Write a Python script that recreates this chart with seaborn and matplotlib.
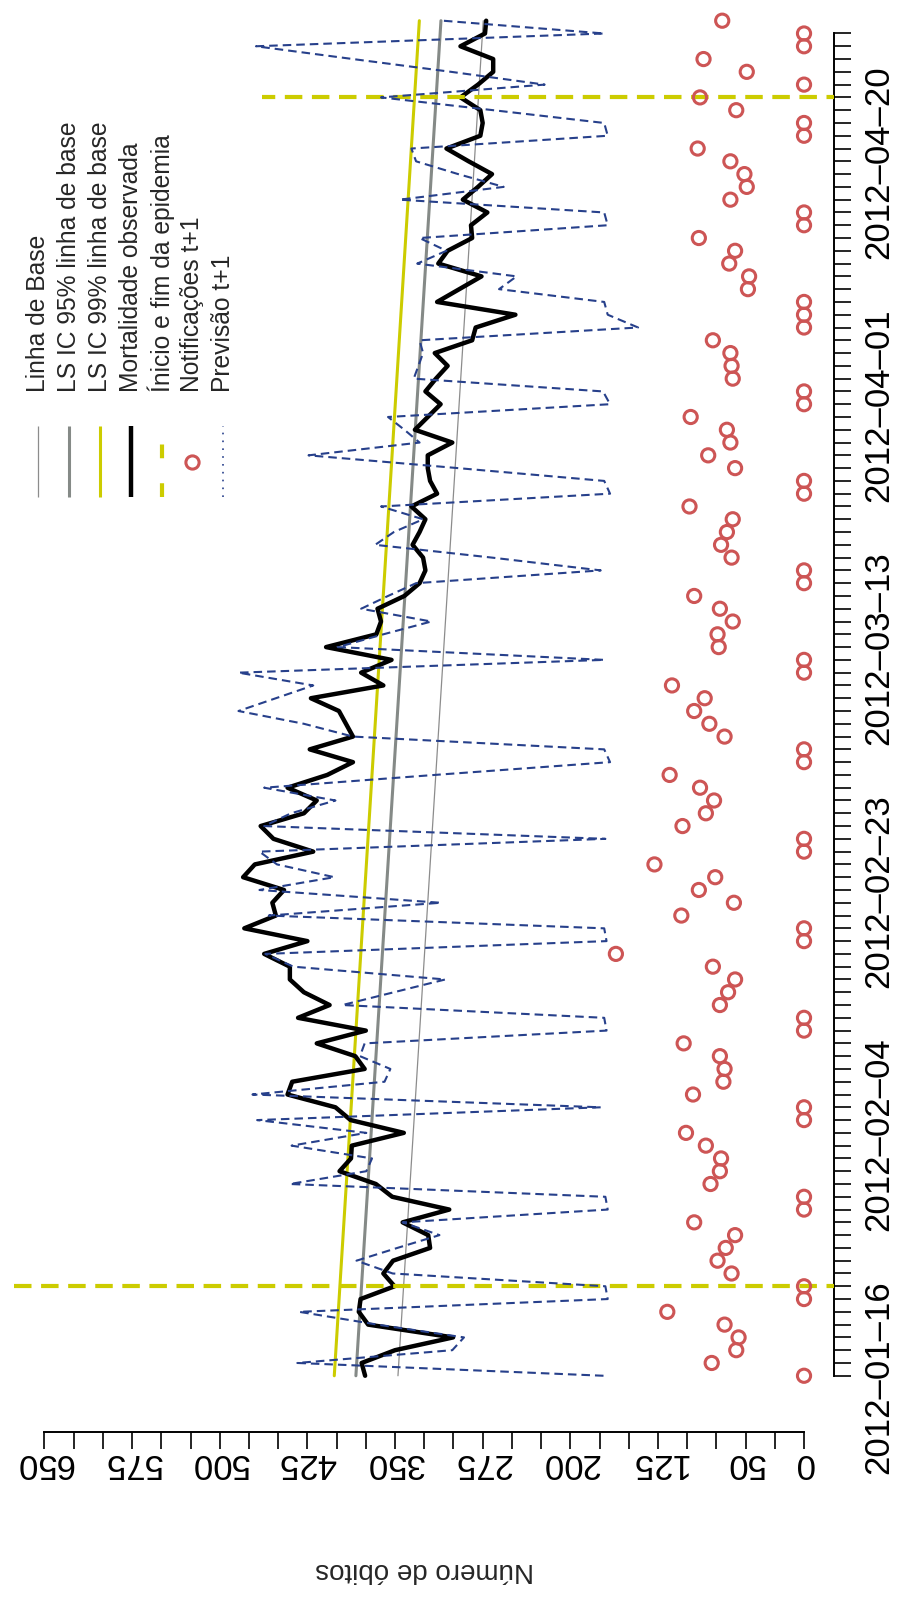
import numpy as np
import pandas as pd
import matplotlib
matplotlib.use("Agg")
import matplotlib.pyplot as plt
import matplotlib.transforms as mtransforms
from matplotlib.lines import Line2D
from matplotlib.patches import Rectangle
from matplotlib.ticker import FixedLocator
import seaborn as sns

# ---------------------------------------------------------------- data
first_day = "2012-01-16"
last_tick_day = "2012-04-30"

# observed daily mortality
observed = [
    375.6, 378.6, 350, 300.3, 373, 381, 379.5, 350.4, 360, 351.7,
    320, 321.6, 343.5, 303.6, 352.4, 366.4, 397.5, 387.7, 387, 342.5,
    388, 401, 442, 438, 376, 384, 417, 375, 433, 406,
    428, 440, 440, 462, 425, 479, 452, 455, 445, 480,
    470, 420, 454, 465, 428, 417, 442, 408, 386, 423,
    386, 392, 398, 422, 360, 379, 353, 409, 366, 362,
    365, 342, 329, 324, 326, 335, 329, 324, 336, 314,
    320, 322, 322, 301, 333, 322, 311, 324, 315, 305,
    316, 284, 281, 247, 314, 295, 276, 313, 305, 284,
    285, 271, 292, 279, 267, 287, 306, 277, 275, 277,
    294, 279, 266, 266, 294, 273, 272,
]

# one-day-ahead forecast
forecast = [
    171.6, 433.6, 301, 291, 365, 432, 168, 170, 352, 383,
    348, 312, 343.5, 168, 170, 440, 374.6, 369.7, 438.5, 374.6,
    468, 174, 472, 359, 354, 380, 376, 169, 171, 395,
    351, 307, 437, 461, 169, 171, 458, 311, 466, 402,
    451, 466, 170, 462, 439, 401, 462, 316, 166, 171,
    386, 428, 484, 452, 420, 484, 171, 399, 360, 319,
    379, 356, 332, 174, 267, 367, 351, 326, 362, 166,
    171, 296, 424, 329, 342, 356, 166, 172, 334, 330,
    326, 329, 142, 168, 171, 261, 246, 331, 306, 329,
    168, 171, 346, 257, 296, 332, 336, 168, 171, 266,
    362, 222, 302, 386, 469, 171, 309,
]

# one-day-ahead notifications
notifications = [
    0, 79, 58, 56, 68, 117, 0, 0, 62, 74,
    67, 59, 94, 0, 0, 80, 72, 71, 84, 101,
    0, 0, 95, 69, 68, 72, 103, 0, 0, 72,
    65, 59, 78, 161, 0, 0, 105, 60, 90, 76,
    128, 0, 0, 104, 84, 77, 89, 115, 0, 0,
    68, 81, 94, 85, 113, 0, 0, 73, 74, 61,
    72, 94, 0, 0, 62, 71, 66, 61, 98, 0,
    0, 59, 82, 63, 66, 97, 0, 0, 61, 62,
    63, 78, 0, 0, 0, 48, 47, 64, 59, 90,
    0, 0, 63, 49, 51, 63, 91, 0, 0, 58,
    89, 0, 49, 86, 0, 0, 70,
]

# baseline and upper confidence limits (first and last day)
baseline = [347.5, 274.5]
ls_ic95 = [383.5, 310.7]
ls_ic99 = [402.0, 329.2]

epidemic_bounds = ["2012-01-23", "2012-04-25"]

date_tick_labels = ["2012-01-16", "2012-02-04", "2012-02-23",
                    "2012-03-13", "2012-04-01", "2012-04-20"]
value_tick_labels = [0, 50, 125, 200, 275, 350, 425, 500, 575, 650]
value_minor_ticks = [0, 25, 50, 75, 100, 125, 150, 175, 200, 225, 250, 275,
                     300, 325, 350, 375, 400, 425, 450, 475, 500, 525, 550,
                     575, 600, 625, 650]

legend_labels = ["Linha de Base", "LS IC 95% linha de base",
                 "LS IC 99% linha de base", "Mortalidade observada",
                 "Ínicio e fim da epidemia", "Notificações t+1", "Previsão t+1"]

# ---------------------------------------------------------------- style
GREY_THIN = "#8c8c8c"
GREY_THICK = "#858a87"
YELLOW = "#cccc00"
RED = "#cd5555"
BLUE = "#27408b"

sns.set_style("white")
plt.rcParams["font.family"] = ["Liberation Sans", "DejaVu Sans"]

W, H = 907, 1608
fig = plt.figure(figsize=(W / 100, H / 100), dpi=100)
fig.patch.set_facecolor("white")

# pixel transform (x from left, y from top) for the legend block
px = mtransforms.Affine2D().scale(1 / W, -1 / H).translate(0, 1) + fig.transFigure

# plot region in pixels; the chart is drawn lying on its side
ax_l, ax_r, ax_b, ax_t = 14.1, 834.4, 1433.0, -32.5
ax = fig.add_axes([ax_l / W, 1 - ax_b / H, (ax_r - ax_l) / W, (ax_b - ax_t) / H])

t0 = pd.Timestamp(first_day)
dates = pd.date_range(t0, periods=len(observed))
day = (dates - t0).days.to_numpy()
span = [day[0], day[-1]]
last_tick = (pd.Timestamp(last_tick_day) - t0).days

# reference lines
for vals, col, lw in [(baseline, GREY_THIN, 0.9),
                      (ls_ic95, GREY_THICK, 2.2),
                      (ls_ic99, YELLOW, 2.2)]:
    sns.lineplot(x=vals, y=span, orient="y", sort=False, estimator=None,
                 color=col, lw=lw, ax=ax, zorder=2)

# observed mortality
sns.lineplot(x=observed, y=day, orient="y", sort=False, estimator=None,
             color="black", lw=3.2, ax=ax, zorder=3)

# epidemic start / end
for d in epidemic_bounds:
    ax.axhline((pd.Timestamp(d) - t0).days, color=YELLOW, lw=3,
               ls=(0, (4.2, 2.3)), zorder=4)

# legend background
ax.add_patch(Rectangle((14.1, -40), 248, 552, transform=px,
                       facecolor="white", edgecolor="none", zorder=5,
                       clip_on=False))

# forecast
sns.lineplot(x=forecast, y=day, orient="y", sort=False, estimator=None,
             color=BLUE, lw=1.5, ls=(0, (4.1, 2.4)), ax=ax, zorder=6)

# notifications
sns.scatterplot(x=notifications, y=day, color=RED, s=90, linewidth=2.2,
                ax=ax, zorder=7)
pts = ax.collections[-1]
pts.set_facecolor("none")
pts.set_edgecolor(RED)

# ---------------------------------------------------------------- axes
ax.set_xlim(676, -26)
ax.set_ylim(-4.4, 110.24)
for s in ["top", "left"]:
    ax.spines[s].set_visible(False)
ax.spines["bottom"].set_bounds(0, 650)
ax.spines["right"].set_bounds(0, last_tick)
for s in ["bottom", "right"]:
    ax.spines[s].set_linewidth(1.4)
    ax.spines[s].set_color("black")

ax.set_xticks(value_tick_labels)
ax.set_xticklabels([str(v) for v in value_tick_labels], rotation=180,
                   fontsize=25)
ax.xaxis.set_minor_locator(FixedLocator(value_minor_ticks))
ax.tick_params(axis="x", which="both", bottom=True, top=False,
               direction="out", length=12, width=1.2, pad=-2, colors="black")

ax.yaxis.tick_right()
major_days = [(pd.Timestamp(s) - t0).days for s in date_tick_labels]
ax.set_yticks(major_days)
ax.set_yticklabels([s.replace("-", "\u2013") for s in date_tick_labels],
                   rotation=90, va="center", ha="left", fontsize=25)
ax.yaxis.set_minor_locator(FixedLocator(list(range(0, last_tick + 1))))
ax.tick_params(axis="y", which="both", right=True, left=False,
               direction="out", length=12, width=1.2, pad=8, colors="black")

ax.set_ylabel("")
ax.set_xlabel("Número de óbitos", fontsize=20, rotation=180)
ax.xaxis.set_label_coords(0.5, -0.0935)
ax.xaxis.label.set_va("center")

# ---------------------------------------------------------------- legend
cols_x = [38.3, 69.3, 100.0, 130.7, 161.7, 191.7, 222.7]
y_lo, y_hi, y_txt = 498.3, 426.7, 391.7
samples = [
    dict(color=GREY_THIN, lw=0.9),
    dict(color=GREY_THICK, lw=2.2),
    dict(color=YELLOW, lw=2.2),
    dict(color="black", lw=3.2),
    dict(color=YELLOW, lw=3, ls=(0, (3.3, 6))),
    None,
    dict(color=BLUE, lw=1.2, ls=(0, (1, 3.7))),
]
for x, style, label in zip(cols_x, samples, legend_labels):
    if style is None:
        fig.add_artist(Line2D([x], [(y_lo + y_hi) / 2], transform=px,
                              marker="o", ms=9.5, mfc="none", mec=RED,
                              mew=2.2, ls="none", zorder=8))
    else:
        fig.add_artist(Line2D([x, x], [y_lo, y_hi], transform=px,
                              solid_capstyle="butt", zorder=8, **style))
    fig.text(x, y_txt, label, transform=px, rotation=90, ha="center",
             va="bottom", fontsize=17.7, zorder=8)

fig.savefig("out.png", dpi=100, facecolor="white")
